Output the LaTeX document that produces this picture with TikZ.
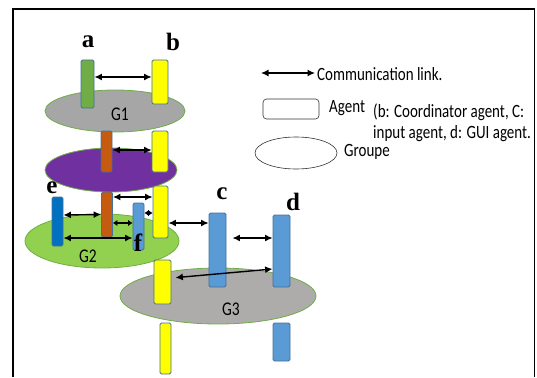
\documentclass[tikz,border=0pt]{standalone}
\usepackage{graphicx}
\usepackage{fontspec}
\setmainfont{Carlito}
\newfontfamily\lblfont{Liberation Serif}
\usetikzlibrary{arrows.meta,shapes.geometric}
\definecolor{agreen}{HTML}{70AD47}
\definecolor{ayellow}{HTML}{FFFF00}
\definecolor{aorange}{HTML}{C55A11}
\definecolor{adblue}{HTML}{0070C0}
\definecolor{alblue}{HTML}{5B9BD5}
\definecolor{barborder}{HTML}{41719C}
\definecolor{gone}{HTML}{A6A6A6}
\definecolor{gpurple}{HTML}{7030A0}
\definecolor{gtwo}{HTML}{92D050}
\definecolor{gthree}{HTML}{AEABAB}
\definecolor{gborder}{HTML}{70AD47}
\newcommand{\tall}[1]{\scalebox{1}[1.25]{#1}}
\begin{document}
\begin{tikzpicture}[x=1pt,y=-1pt,
  bar/.style={draw=barborder, line width=0.8pt, rounded corners=1.5pt, inner sep=0pt},
  grp/.style={ellipse, draw=gborder, line width=0.8pt, inner sep=0pt},
  link/.style={{Latex[length=7.5pt,width=7pt]}-{Latex[length=7.5pt,width=7pt]}, line width=1.4pt},
  shortlink/.style={{Latex[length=4.5pt,width=6.5pt]}-{Latex[length=4.5pt,width=6.5pt]}, line width=1.4pt},
  letter/.style={font=\lblfont\bfseries\fontsize{25}{27}\selectfont, inner sep=0pt},
  glabel/.style={font=\fontsize{15.5}{17}\selectfont, inner sep=0pt},
  legtext/.style={font=\fontsize{15}{18}\selectfont, inner sep=0pt, anchor=west}]
\useasboundingbox (0,0) rectangle (537,377);
% frame
\draw[line width=1.5pt] (13,377) -- (13,9) -- (534.5,9) -- (534.5,377);
% groups
\node[grp, fill=gone, minimum width=140pt, minimum height=42pt] (G1) at (115,111) {};
\node[grp, fill=gpurple, minimum width=132pt, minimum height=44pt] (GP) at (111,170) {};
\node[grp, fill=gtwo, minimum width=154pt, minimum height=54pt] (G2) at (102,241) {};
\node[grp, fill=gthree, minimum width=196pt, minimum height=56pt] (G3) at (218,296) {};
\node[glabel] (g1t) at (120,114) {\tall{G1}};
\node[glabel] (g2t) at (88,256) {\tall{G2}};
\node[glabel] (g3t) at (231,309) {\tall{G3}};
% agents
\node[bar, fill=agreen, minimum width=13pt, minimum height=48pt] (a) at (87.5,84) {};
\node[bar, fill=ayellow, minimum width=16pt, minimum height=44pt] (b1) at (160,82) {};
\node[bar, fill=aorange, minimum width=11pt, minimum height=41pt] (o1) at (106.5,151.5) {};
\node[bar, fill=ayellow, minimum width=16pt, minimum height=41pt] (b2) at (160,151.5) {};
\node[bar, fill=aorange, minimum width=11pt, minimum height=45pt] (o2) at (107,214.5) {};
\node[bar, fill=ayellow, minimum width=15pt, minimum height=52pt] (b3) at (160.5,212) {};
\node[bar, fill=adblue, minimum width=11pt, minimum height=49pt] (e) at (57.5,221.5) {};
\node[bar, fill=alblue, minimum width=11pt, minimum height=47pt] (f) at (138.5,226.5) {};
\node[bar, fill=alblue, minimum width=17pt, minimum height=74pt] (c) at (217.5,250) {};
\node[bar, fill=alblue, minimum width=17pt, minimum height=72pt] (d1) at (281.5,251) {};
\node[bar, fill=alblue, minimum width=17pt, minimum height=38pt] (d2) at (281.5,342) {};
\node[bar, fill=ayellow, minimum width=17pt, minimum height=44pt] (b4) at (162.5,282) {};
\node[bar, fill=ayellow, minimum width=11pt, minimum height=51pt] (b5) at (165.5,348.5) {};
% links
\draw[link] ([yshift=7pt]a.east) -- ([yshift=5pt]b1.west);
\draw[link] ([yshift=1.5pt]o1.east) -- ([yshift=1.5pt]b2.west);
\draw[link] ([yshift=17.5pt]o2.east) -- ([yshift=15pt]b3.west);
\draw[link] ([yshift=6.5pt]e.east) -- (o2.west);
\draw[shortlink] ([yshift=-8.5pt]o2.east) -- ([yshift=3.5pt]f.west);
\draw[shortlink] ([yshift=13.5pt]f.east) -- ([yshift=-1pt]b3.west);
\draw[link] ([yshift=-16.5pt]e.east) -- ([yshift=-11.5pt]f.west);
\draw[link] ([yshift=-11pt]b3.east) -- ([yshift=27pt]c.west);
\draw[link, shorten <=6pt] ([yshift=12pt]c.east) -- ([yshift=13pt]d1.west);
\draw[link, shorten <=4pt] ([yshift=4pt]b4.east) -- ([yshift=-18pt]d1.west);
% letters
\node[letter] (la) at (88,42) {a};
\node[letter] (lb) at (173,42) {b};
\node[letter] (le) at (52,188) {e};
\node[letter] (lf) at (138,243) {f};
\node[letter] (lc) at (222,194) {c};
\node[letter] (ld) at (293,202) {d};
% legend
\coordinate (l1) at (261,73);
\coordinate (l2) at (315,73);
\draw[link] (l1) -- (l2);
\node[legtext] (tcomm) at (317,74) {\tall{Communication link.}};
\node[draw=black!80, line width=0.6pt, rounded corners=3.5pt, fill=white, minimum width=56pt, minimum height=20pt, inner sep=0pt] (legagent) at (291,109) {};
\node[legtext] (tagent) at (329,108) {\tall{Agent}};
\node[legtext] (tdesc1) at (373,112) {\tall{(b: Coordinator agent, C:}};
\node[legtext] (tdesc2) at (373,134) {\tall{input agent, d: GUI agent.}};
\node[ellipse, draw=black!80, line width=0.6pt, minimum width=82pt, minimum height=32pt, inner sep=0pt] (leggroup) at (296,153) {};
\node[legtext] (tgroupe) at (344,152) {\tall{Groupe}};
\end{tikzpicture}
\end{document}
